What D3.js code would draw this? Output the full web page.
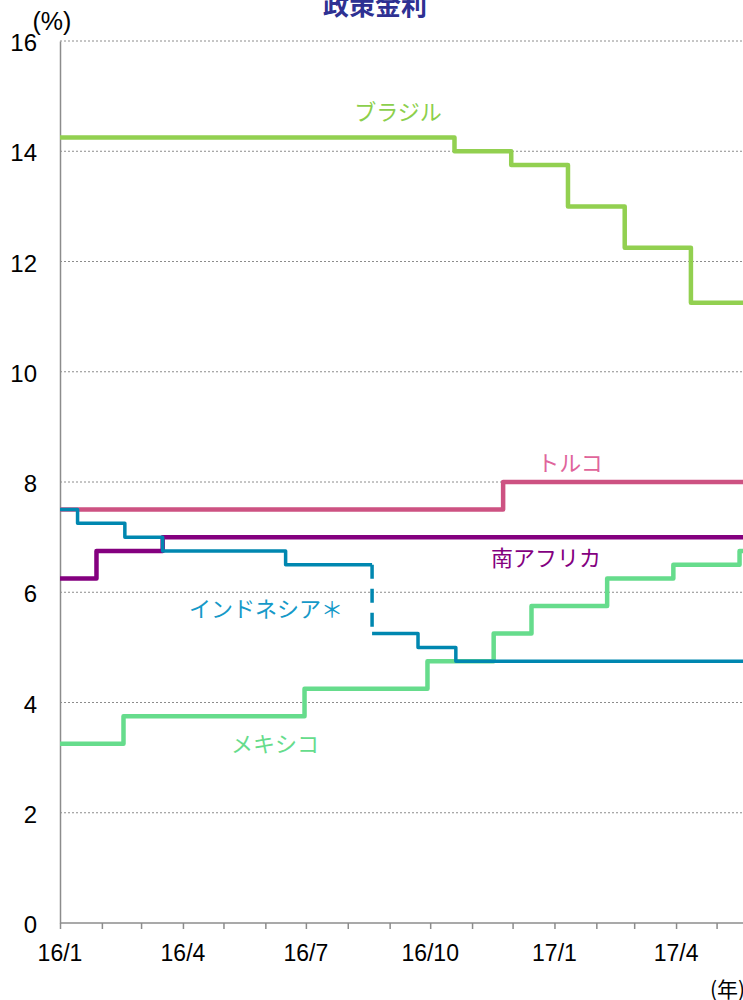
<!DOCTYPE html>
<html>
<head>
<meta charset="utf-8">
<script src="https://cdn.jsdelivr.net/npm/d3@7"></script>
<style>
  html, body { margin: 0; padding: 0; background: #fff; }
  svg { display: block; }
  text { font-family: "Liberation Sans", Arial, sans-serif; }
  .jp { font-family: "Noto Sans CJK JP", "Noto Sans", sans-serif; }
</style>
</head>
<body>
<svg id="chart"></svg>
<script>
// ── DATA ─────────────────────────────────────────────────────────────────
const endDate = "2017-05-31";
const yTicks = [0, 2, 4, 6, 8, 10, 12, 14, 16];
const xLabels = ["16/1", "16/4", "16/7", "16/10", "17/1", "17/4"];
const xLabelDates = ["2016-01-01", "2016-04-01", "2016-07-01", "2016-10-01", "2017-01-01", "2017-04-01"];

const brazilDates  = ["2016-01-01", "2016-10-19", "2016-11-30", "2017-01-11", "2017-02-22", "2017-04-12"];
const brazilValues = [14.25, 14.0, 13.75, 13.0, 12.25, 11.25];

const turkeyDates  = ["2016-01-01", "2016-11-24"];
const turkeyValues = [7.5, 8.0];

const safricaDates  = ["2016-01-01", "2016-01-28", "2016-03-17"];
const safricaValues = [6.25, 6.75, 7.0];

// インドネシア: 旧政策金利 (BIレート) → 7日物リバースレポ (2016/8/19 切替)
const indoOldDates  = ["2016-01-01", "2016-01-14", "2016-02-18", "2016-03-17", "2016-06-16"];
const indoOldValues = [7.5, 7.25, 7.0, 6.75, 6.5];
const indoSwitch    = "2016-08-19";
const indoNewDates  = ["2016-08-19", "2016-09-22", "2016-10-20"];
const indoNewValues = [5.25, 5.0, 4.75];

const mexicoDates  = ["2016-01-01", "2016-02-17", "2016-06-30", "2016-09-29", "2016-11-17", "2016-12-15", "2017-02-09", "2017-03-30", "2017-05-18"];
const mexicoValues = [3.25, 3.75, 4.25, 4.75, 5.25, 5.75, 6.25, 6.5, 6.75];

// ── DIMENSI ──────────────────────────────────────────────────────────────
const W = 743, H = 1000;
const parse = d3.utcParse("%Y-%m-%d");

const svg = d3.select("#chart").attr("width", W).attr("height", H);

const x = d3.scaleUtc()
  .domain([parse("2016-01-01"), parse(endDate)])
  .range([60, 60 + 516 * 1.351]);
const y = d3.scaleLinear().domain([0, 16]).range([923, 41]);

// ── TITLE ────────────────────────────────────────────────────────────────
svg.append("text").attr("class", "jp")
  .attr("x", 375).attr("y", 15)
  .attr("text-anchor", "middle")
  .style("font-size", "26px").style("font-weight", "bold")
  .style("fill", "#2e3192")
  .text("政策金利");

svg.append("text")
  .attr("x", 52).attr("y", 30)
  .attr("text-anchor", "middle")
  .style("font-size", "25px").style("fill", "#000")
  .text("(%)");

// ── GRID ─────────────────────────────────────────────────────────────────
svg.append("g")
  .selectAll("line")
  .data(yTicks.filter(d => d > 0))
  .join("line")
    .attr("x1", 60).attr("x2", W)
    .attr("y1", d => y(d)).attr("y2", d => y(d))
    .attr("stroke", "#8c8c8c")
    .attr("stroke-width", 1)
    .attr("stroke-dasharray", "2,2");

// ── AXIS ─────────────────────────────────────────────────────────────────
svg.append("g")
  .attr("transform", `translate(60,0)`)
  .call(d3.axisLeft(y).tickValues(yTicks).tickSize(0).tickFormat(d3.format("d")))
  .call(ax => ax.select(".domain").attr("stroke", "#8c8c8c").attr("stroke-width", 1.5))
  .call(ax => ax.selectAll(".tick text")
    .attr("x", -23)
    .attr("dy", "0.4em")
    .style("font-size", "24px")
    .style("font-family", "Liberation Sans, Arial, sans-serif")
    .style("fill", "#000"));

const months = d3.utcMonth.range(parse("2016-01-01"), parse(endDate));
svg.append("g")
  .attr("transform", `translate(0,${y(0)})`)
  .call(d3.axisBottom(x).tickValues(months).tickSize(6).tickSizeOuter(0).tickFormat(""))
  .call(ax => ax.select(".domain").attr("stroke", "#8c8c8c").attr("stroke-width", 1.5)
    .attr("d", `M60,0H${W}`))
  .call(ax => ax.selectAll(".tick line").attr("stroke", "#8c8c8c").attr("stroke-width", 1.5));

svg.append("g")
  .selectAll("text")
  .data(xLabels)
  .join("text")
    .attr("x", (d, i) => x(parse(xLabelDates[i])))
    .attr("y", 961)
    .attr("text-anchor", "middle")
    .style("font-size", "23px")
    .style("fill", "#000")
    .text(d => d);

svg.append("text").attr("class", "jp")
  .attr("x", 710).attr("y", 997)
  .style("font-size", "21px").style("fill", "#000")
  .text("(年)");

// ── LINES ────────────────────────────────────────────────────────────────
const line = d3.line()
  .x(d => x(d.date))
  .y(d => y(d.value))
  .curve(d3.curveStepAfter);

function toPts(dates, values, until) {
  const pts = dates.map((d, i) => ({ date: parse(d), value: values[i] }));
  pts.push({ date: parse(until), value: values[values.length - 1] });
  return pts;
}

function drawLine(pts, color, width, dash) {
  svg.append("path")
    .datum(pts)
    .attr("d", line)
    .attr("fill", "none")
    .attr("stroke", color)
    .attr("stroke-width", width)
    .attr("stroke-linejoin", "round")
    .attr("stroke-dasharray", dash || null);
}

drawLine(toPts(mexicoDates, mexicoValues, endDate), "#66dc8c", 4.5);
drawLine(toPts(brazilDates, brazilValues, endDate), "#92d050", 4.5);
drawLine(toPts(turkeyDates, turkeyValues, endDate), "#cd5282", 4.5);
drawLine(toPts(safricaDates, safricaValues, endDate), "#84007f", 4.5);
drawLine(toPts(indoOldDates, indoOldValues, indoSwitch), "#0087b0", 3.5);
drawLine(toPts(indoNewDates, indoNewValues, endDate), "#0087b0", 3.5);
// 切替時点の破線
drawLine([
  { date: parse(indoSwitch), value: indoOldValues[indoOldValues.length - 1] },
  { date: parse(indoSwitch), value: indoNewValues[0] }
], "#0087b0", 3.5, "14,10");

// ── LABELS ───────────────────────────────────────────────────────────────
const labels = [
  { text: "ブラジル",       x: 398, y: 120, color: "#8ccf4c" },
  { text: "トルコ",         x: 570, y: 471, color: "#e0659b" },
  { text: "南アフリカ",     x: 546, y: 566, color: "#84007f" },
  { text: "インドネシア＊", x: 266, y: 617, color: "#1599c8" },
  { text: "メキシコ",       x: 275, y: 752, color: "#66dc8c" }
];

svg.append("g")
  .selectAll("text")
  .data(labels)
  .join("text")
    .attr("class", "jp")
    .attr("x", d => d.x)
    .attr("y", d => d.y)
    .attr("text-anchor", "middle")
    .style("font-size", "22px")
    .style("fill", d => d.color)
    .text(d => d.text);
</script>
</body>
</html>
